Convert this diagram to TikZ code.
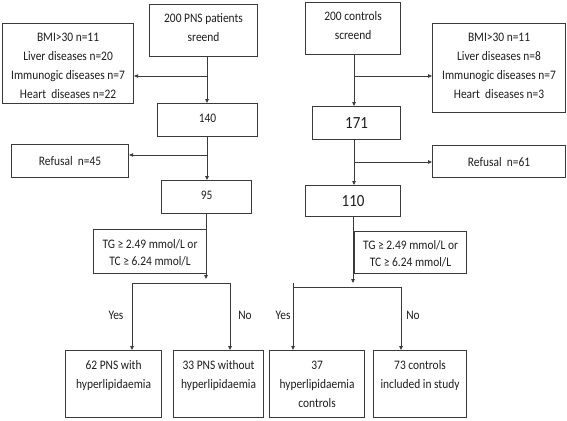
\documentclass[tikz,border=0pt]{standalone}
\usepackage{fontspec}
\setmainfont{Carlito}[FakeStretch=0.88]
\usetikzlibrary{arrows.meta}
\definecolor{ln}{HTML}{3A3A3A}
\definecolor{tx}{HTML}{1E1E1E}
\tikzset{
  box/.style={draw=ln, line width=1.1pt, anchor=north west, inner sep=0pt, fill=white},
  txt/.style={text=tx, align=center, inner sep=0pt, font=\fontsize{13}{19}\selectfont},
  bigtxt/.style={text=tx, align=center, inner sep=0pt, font=\fontsize{17}{18}\selectfont},
  arr/.style={draw=ln, line width=0.8pt, -{Triangle[length=4pt,width=3.5pt]}},
  ln/.style={draw=ln, line width=0.8pt},
}
\begin{document}
\begin{tikzpicture}[x=1pt,y=-1pt]
\useasboundingbox (0,0) rectangle (567,420);
% ---------- left column ----------
\node[box, minimum width=108pt, minimum height=52pt] (a1) at (149,4) {};
\node[txt, anchor=north] (a1t) at ([yshift=-9pt]a1.north) {200 PNS patients\\sreend};
\node[box, minimum width=131pt, minimum height=80pt] (e1) at (2,23) {};
\node[txt, anchor=north] (e1t) at ([yshift=-9.5pt]e1.north) {BMI>30 n=11\\Liver diseases n=20\\Immunogic diseases n=7\\Heart\ \ diseases n=22};
\node[box, minimum width=100pt, minimum height=33pt] (b1) at (157,103) {};
\node[txt] (b1t) at ([yshift=2pt]b1.center) {140};
\node[box, minimum width=117pt, minimum height=33pt] (r1) at (11,144) {};
\node[txt] (r1t) at (r1.center) {Refusal\ \ n=45};
\node[box, minimum width=90pt, minimum height=33pt] (c1) at (161,180) {};
\node[txt] (c1t) at ([yshift=2pt]c1.center) {95};
\node[box, minimum width=113pt, minimum height=44pt] (t1) at (93,229) {};
\node[txt, font=\fontsize{13}{17}\selectfont] (t1t) at ([yshift=-1.5pt]t1.center) {TG ≥ 2.49 mmol/L or\\TC ≥ 6.24 mmol/L};
\node[box, minimum width=96pt, minimum height=67pt] (d1) at (65,350) {};
\node[txt, anchor=north] (d1t) at ([yshift=-10.5pt]d1.north) {62 PNS with\\hyperlipidaemia};
\node[box, minimum width=90pt, minimum height=67pt] (f1) at (173,350) {};
\node[txt, anchor=north] (f1t) at ([yshift=-10.5pt]f1.north) {33 PNS without\\hyperlipidaemia};
% ---------- right column ----------
\node[box, minimum width=95pt, minimum height=52pt] (a2) at (305,2) {};
\node[txt, anchor=north] (a2t) at ([yshift=-9pt]a2.north) {200 controls\\screend};
\node[box, minimum width=133pt, minimum height=89pt] (e2) at (432,23) {};
\node[txt, anchor=north] (e2t) at ([yshift=-9.5pt]e2.north) {BMI>30 n=11\\Liver diseases n=8\\Immunogic diseases n=7\\Heart\ \ diseases n=3};
\node[box, minimum width=88pt, minimum height=33pt] (b2) at (312,106) {};
\node[bigtxt] (b2t) at (b2.center) {171};
\node[box, minimum width=133pt, minimum height=32pt] (r2) at (432,145) {};
\node[txt] (r2t) at (r2.center) {Refusal\ \ n=61};
\node[box, minimum width=95pt, minimum height=31pt] (c2) at (305,185) {};
\node[bigtxt] (c2t) at (c2.center) {110};
\node[box, minimum width=112pt, minimum height=42pt] (t2) at (354,231) {};
\node[txt, font=\fontsize{13}{17}\selectfont] (t2t) at ([yshift=-1pt]t2.center) {TG ≥ 2.49 mmol/L or\\TC ≥ 6.24 mmol/L};
\node[box, minimum width=95pt, minimum height=67pt] (d2) at (269,350) {};
\node[txt, anchor=north] (d2t) at ([yshift=-10.5pt]d2.north) {37\\hyperlipidaemia\\controls};
\node[box, minimum width=93pt, minimum height=67pt] (f2) at (373,350) {};
\node[txt, anchor=north] (f2t) at ([yshift=-10.5pt]f2.north) {73 controls\\included in study};
% ---------- connector coordinates ----------
\coordinate (s1) at (207,56);
\coordinate (j1) at (207,76);
\coordinate (j2) at (207,155);
\coordinate (m1) at (206,279);
\coordinate (hl1) at (132,283);
\coordinate (hr1) at (230,283);
\coordinate (s2) at (354,54);
\coordinate (j3) at (354,76);
\coordinate (j4) at (354,162);
\coordinate (m2) at (353,283);
\coordinate (hl2) at (293,287);
\coordinate (hr2) at (401,287);
\coordinate (st2) at (293,283);
% ---------- connectors left ----------
\draw[arr] (s1) -- (s1 |- b1.north);
\draw[arr] (j1) -- (e1.east |- j1);
\draw[arr] (s1 |- b1.south) -- (s1 |- c1.north);
\draw[arr] (j2) -- (r1.east |- j2);
\draw[arr] (m1 |- c1.south) -- (m1);
\draw[ln] (hl1) -- (hr1);
\draw[arr] (hl1) -- (hl1 |- d1.north);
\draw[arr] (hr1) -- (hr1 |- f1.north);
\node[txt] (y1) at (116,315) {Yes};
\node[txt] (n1) at (245,315) {No};
% ---------- connectors right ----------
\draw[arr] (s2) -- (s2 |- b2.north);
\draw[arr] (j3) -- (e2.west |- j3);
\draw[arr] (s2 |- b2.south) -- (s2 |- c2.north);
\draw[arr] (j4) -- (r2.west |- j4);
\draw[arr] (m2 |- c2.south) -- (m2);
\draw[ln] (hl2) -- (hr2);
\draw[arr] (st2) -- (st2 |- d2.north);
\draw[arr] (hr2) -- (hr2 |- f2.north);
\node[txt] (y2) at (283,315) {Yes};
\node[txt] (n2) at (413,315) {No};
\end{tikzpicture}
\end{document}
